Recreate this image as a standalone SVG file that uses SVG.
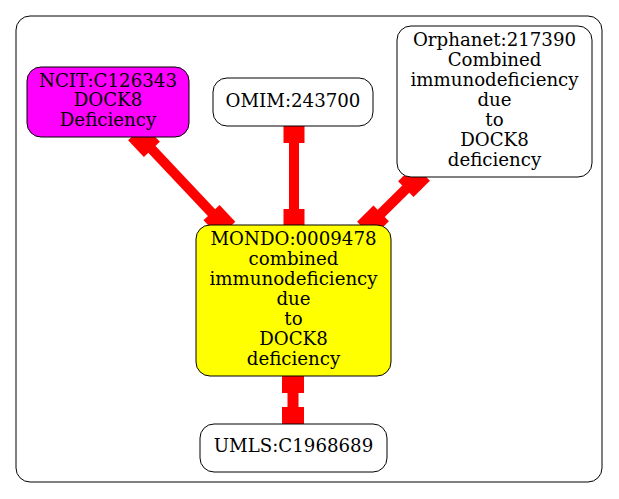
<svg xmlns="http://www.w3.org/2000/svg" width="619" height="499" viewBox="0 0 619 499">
<style>
.node{stroke:#000;stroke-width:1}
text{font-family:"DejaVu Serif","Liberation Serif",serif;font-size:18.2px;text-anchor:middle;fill:#000}
.e{fill:#ff0000}
</style>
<rect width="619" height="499" fill="#fff"/>
<rect x="16" y="16" width="586" height="466" rx="14" fill="none" stroke="#000" stroke-width="1"/>
<g id="connectors">
<g transform="translate(294,120) rotate(90)"><rect class="e" x="0" y="-10.5" width="23" height="21"/><rect class="e" x="22" y="-5" width="68" height="10"/><rect class="e" x="89" y="-10.5" width="23" height="21"/></g>
<g transform="translate(293,370) rotate(90)"><rect class="e" x="0" y="-11" width="23" height="22"/><rect class="e" x="22" y="-5.5" width="16" height="11"/><rect class="e" x="37" y="-11" width="23" height="22"/></g>
<g transform="translate(136.1,132.6) rotate(46.7)"><rect class="e" x="0" y="-11" width="23" height="22"/><rect class="e" x="22" y="-5" width="89" height="10"/><rect class="e" x="110" y="-11" width="23" height="22"/></g>
<g transform="translate(422.2,172.9) rotate(135.4)"><rect class="e" x="0" y="-11" width="23" height="22"/><rect class="e" x="22" y="-5" width="37" height="10"/><rect class="e" x="57.6" y="-11" width="23" height="22"/></g>
</g>
<g id="ncit"><rect class="node" x="27" y="67" width="162" height="70" rx="14" fill="#ff00ff"/><text x="108" y="86.5">NCIT:C126343</text><text x="108" y="106">DOCK8</text><text x="108" y="125.5">Deficiency</text></g>
<g id="omim"><rect class="node" x="213" y="78" width="160" height="48" rx="14" fill="#fff"/><text x="293" y="106.5">OMIM:243700</text></g>
<g id="orphanet"><rect class="node" x="397" y="26" width="195" height="151" rx="14" fill="#fff"/><text x="494.5" y="46">Orphanet:217390</text><text x="494.5" y="66">Combined</text><text x="494.5" y="86">immunodeficiency</text><text x="494.5" y="105.5">due</text><text x="494.5" y="125.5">to</text><text x="494.5" y="145.5">DOCK8</text><text x="494.5" y="165.5">deficiency</text></g>
<g id="mondo"><rect class="node" x="196" y="225" width="195" height="151" rx="14" fill="#ffff00"/><text x="293.5" y="245">MONDO:0009478</text><text x="293.5" y="265">combined</text><text x="293.5" y="285">immunodeficiency</text><text x="293.5" y="305">due</text><text x="293.5" y="325">to</text><text x="293.5" y="345">DOCK8</text><text x="293.5" y="365">deficiency</text></g>
<g id="umls"><rect class="node" x="200" y="424" width="187" height="48" rx="14" fill="#fff"/><text x="293.5" y="452">UMLS:C1968689</text></g>
</svg>
